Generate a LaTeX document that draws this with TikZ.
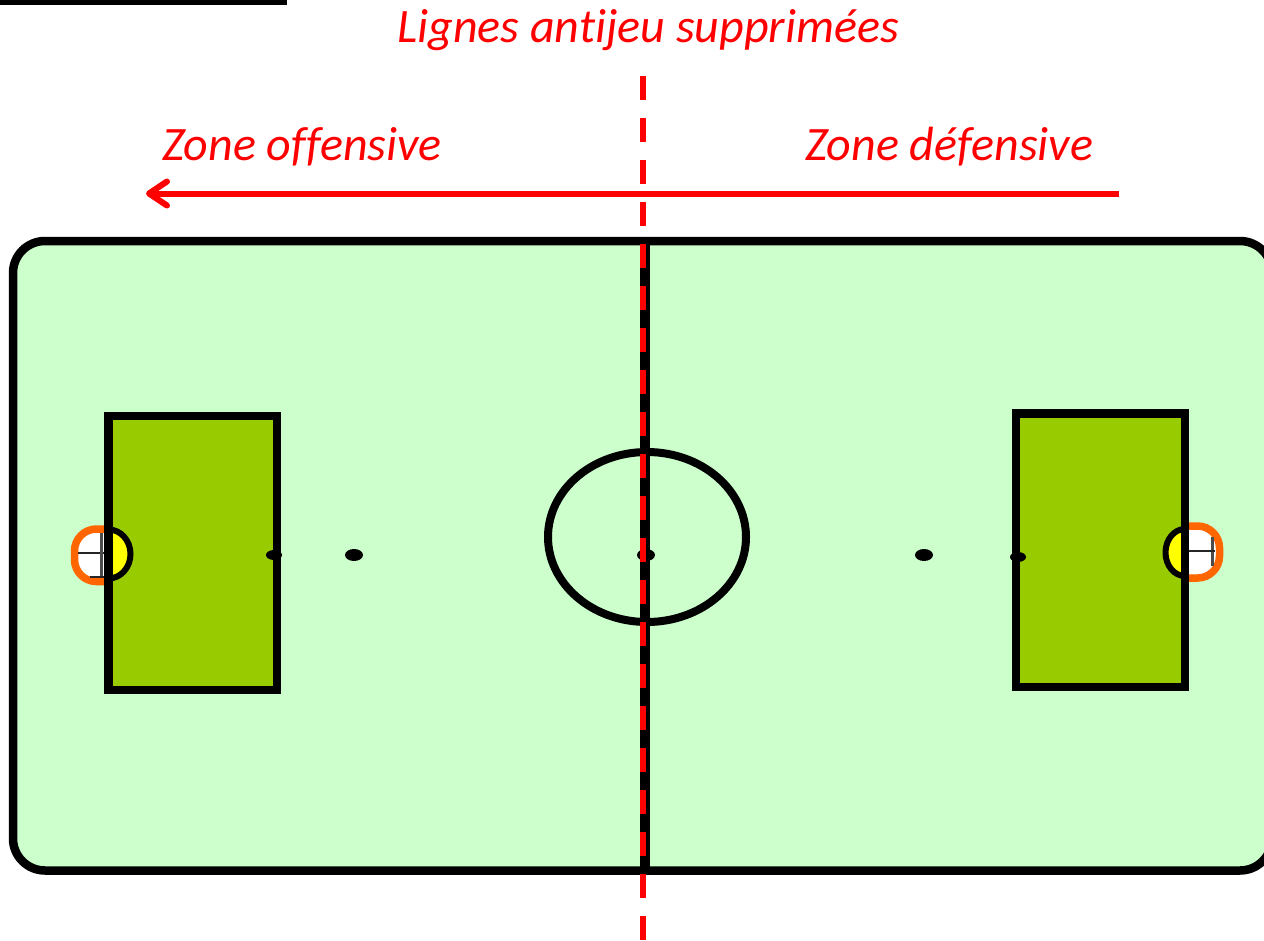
\documentclass[tikz,border=0pt]{standalone}
\usepackage{fontspec}
\setmainfont[RawFeature=-liga]{Carlito}
\usetikzlibrary{arrows.meta}
\definecolor{fieldgreen}{RGB}{204,255,204}
\definecolor{boxgreen}{RGB}{153,204,0}
\definecolor{goalorange}{RGB}{255,102,0}
\definecolor{redline}{RGB}{255,0,0}
\definecolor{creaseyellow}{RGB}{255,255,0}
\tikzset{
  x=1pt,y=-1pt,
  pitch/.style={draw=black,line width=8.5pt,fill=fieldgreen,rounded corners=32pt},
  boxfill/.style={fill=boxgreen},
  boxline/.style={draw=black,line width=8.5pt,line join=miter},
  spot/.style={fill=black,draw=none},
  redtext/.style={text=redline,font=\fontsize{48}{58}\selectfont\itshape,inner sep=0pt,anchor=base},
  reddash/.style={draw=redline,line width=6pt,dash pattern=on 24pt off 18pt},
  redarrow/.style={draw=redline,line width=6pt,-{Straight Barb[round,length=18pt,width=24pt,line width=6pt]}},
  goalnet/.style={draw=goalorange,line width=7.5pt,fill=white,rounded corners=22pt},
  crease/.style={draw=black,line width=6pt,fill=creaseyellow},
  netline/.style={draw=black!85,line width=2.5pt},
  netpost/.style={draw=black!70,line width=3pt},
}
\begin{document}
\begin{tikzpicture}
\useasboundingbox (0,0) rectangle (1264,940);
\clip (0,0) rectangle (1264,940);
\fill[black] (0,0) rectangle (287,5);
% pitch
\draw[pitch] (13,241) rectangle (1272,870.5);
% goals
\draw[goalnet] (108,529) -- (74.5,529) -- (74.5,581.5) -- (108,581.5);
\draw[netline] (78,553) -- (106,553);
\draw[netpost] (101.5,533) -- (101.5,578);
\draw[netline] (90,577) -- (106,577);
\draw[goalnet] (1186,526) -- (1219.5,526) -- (1219.5,578) -- (1186,578);
\draw[netpost] (1212.5,537) -- (1212.5,566);
\draw[netline] (1186,551) -- (1215,551);
% penalty boxes
\fill[boxfill] (108.5,416) rectangle (277,690);
\fill[boxfill] (1016,413.5) rectangle (1185,687);
% creases
\draw[crease] (108.5,529.5) arc[start angle=-90,end angle=90,x radius=22,y radius=24.5];
\draw[crease] (1185,529) arc[start angle=270,end angle=90,x radius=19.5,y radius=23.5];
\draw[boxline] (108.5,416) rectangle (277,690);
\draw[boxline] (1016,413.5) rectangle (1185,687);
% centre line and circle
\draw[draw=black,line width=10pt] (645,241) -- (645,870);
\draw[draw=black,line width=8pt] (647,537) ellipse[x radius=99,y radius=85];
% spots
\fill[spot] (274,555) ellipse[x radius=8,y radius=5];
\fill[spot] (354,555) ellipse[x radius=9,y radius=6];
\fill[spot] (646,555) ellipse[x radius=9,y radius=6];
\fill[spot] (924,555) ellipse[x radius=9,y radius=6];
\fill[spot] (1018,557) ellipse[x radius=8,y radius=5];
% red overlay
\coordinate (dashtop) at (643,76);
\coordinate (dashbot) at (643,940);
\draw[reddash] (dashtop) -- (dashbot);
\coordinate (arrowstart) at (1119,193.5);
\coordinate (arrowend) at (146,193.5);
\draw[redarrow] (arrowstart) -- (arrowend);
\node[redtext] (title) at (648,42) {Lignes antijeu supprimées};
\node[redtext] (off) at (302,160) {Zone offensive};
\node[redtext] (def) at (949,160) {Zone défensive};
\end{tikzpicture}
\end{document}
